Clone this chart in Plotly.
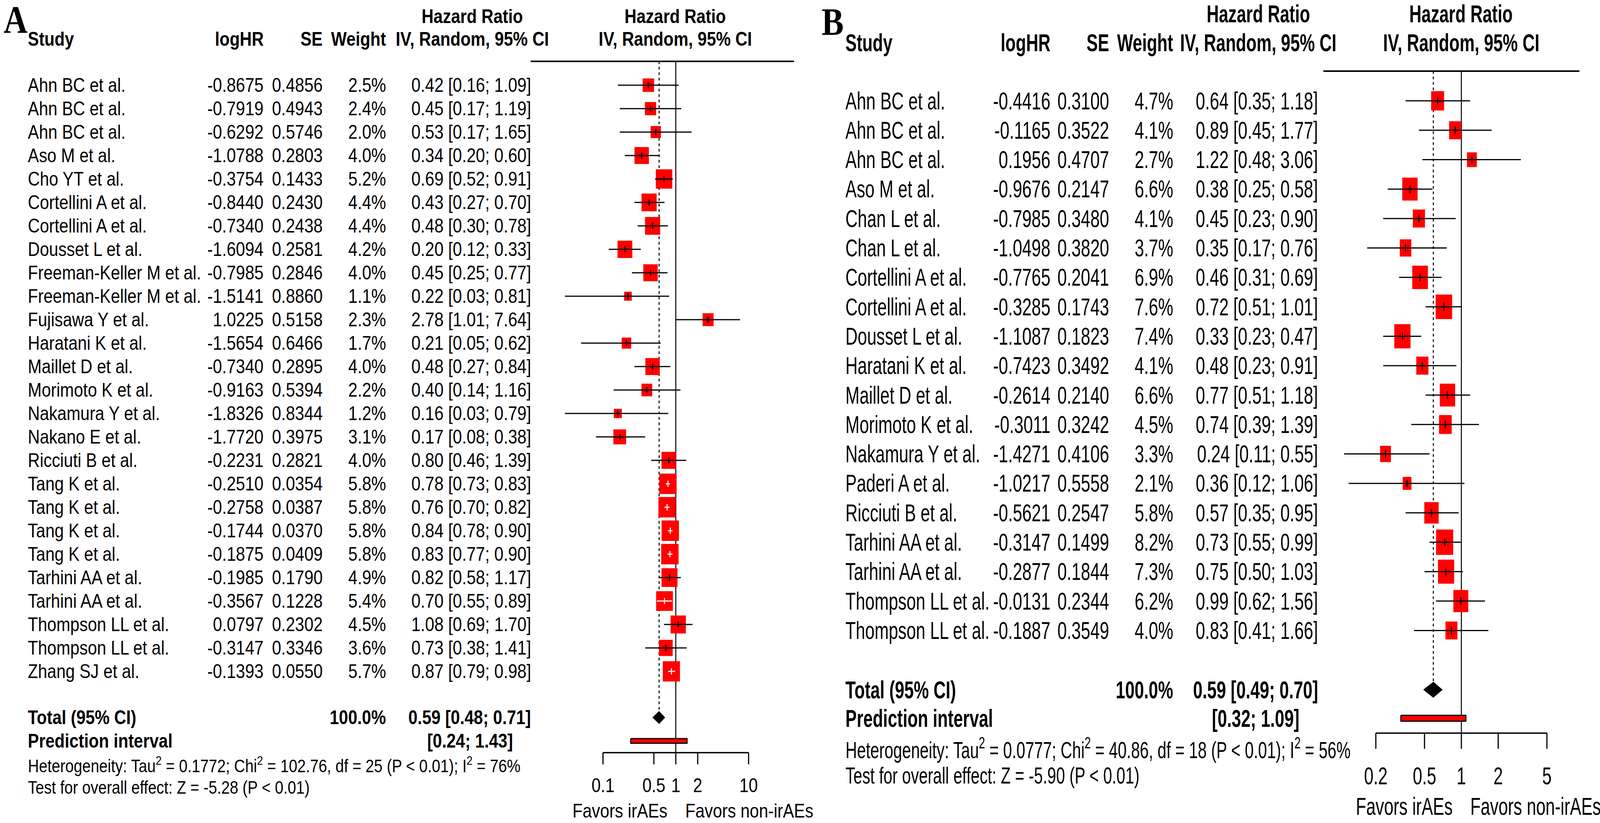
import math
import plotly.graph_objects as go

W, H = 4824, 2106

# ---------------- Panel A data ----------------
a_study = ["Ahn BC et al.", "Ahn BC et al.", "Ahn BC et al.", "Aso M et al.", "Cho YT et al.",
           "Cortellini A et al.", "Cortellini A et al.", "Dousset L et al.", "Freeman-Keller M et al.",
           "Freeman-Keller M et al.", "Fujisawa Y et al.", "Haratani K et al.", "Maillet D et al.",
           "Morimoto K et al.", "Nakamura Y et al.", "Nakano E et al.", "Ricciuti B et al.",
           "Tang K et al.", "Tang K et al.", "Tang K et al.", "Tang K et al.", "Tarhini AA et al.",
           "Tarhini AA et al.", "Thompson LL et al.", "Thompson LL et al.", "Zhang SJ et al."]
a_loghr = [-0.8675, -0.7919, -0.6292, -1.0788, -0.3754, -0.8440, -0.7340, -1.6094, -0.7985,
           -1.5141, 1.0225, -1.5654, -0.7340, -0.9163, -1.8326, -1.7720, -0.2231, -0.2510,
           -0.2758, -0.1744, -0.1875, -0.1985, -0.3567, 0.0797, -0.3147, -0.1393]
a_se = [0.4856, 0.4943, 0.5746, 0.2803, 0.1433, 0.2430, 0.2438, 0.2581, 0.2846, 0.8860, 0.5158,
        0.6466, 0.2895, 0.5394, 0.8344, 0.3975, 0.2821, 0.0354, 0.0387, 0.0370, 0.0409, 0.1790,
        0.1228, 0.2302, 0.3346, 0.0550]
a_weight = [2.5, 2.4, 2.0, 4.0, 5.2, 4.4, 4.4, 4.2, 4.0, 1.1, 2.3, 1.7, 4.0, 2.2, 1.2, 3.1, 4.0,
            5.8, 5.8, 5.8, 5.8, 4.9, 5.4, 4.5, 3.6, 5.7]
a_hr = [0.42, 0.45, 0.53, 0.34, 0.69, 0.43, 0.48, 0.20, 0.45, 0.22, 2.78, 0.21, 0.48, 0.40, 0.16,
        0.17, 0.80, 0.78, 0.76, 0.84, 0.83, 0.82, 0.70, 1.08, 0.73, 0.87]
a_lower = [0.16, 0.17, 0.17, 0.20, 0.52, 0.27, 0.30, 0.12, 0.25, 0.03, 1.01, 0.05, 0.27, 0.14, 0.03,
           0.08, 0.46, 0.73, 0.70, 0.78, 0.77, 0.58, 0.55, 0.69, 0.38, 0.79]
a_upper = [1.09, 1.19, 1.65, 0.60, 0.91, 0.70, 0.78, 0.33, 0.77, 0.81, 7.64, 0.62, 0.84, 1.16, 0.79,
           0.38, 1.39, 0.83, 0.82, 0.90, 0.90, 1.17, 0.89, 1.70, 1.41, 0.98]
a_total_weight = 100.0
a_total = [0.59, 0.48, 0.71]
a_pred = [0.24, 1.43]
a_ticks = [0.1, 0.5, 1, 2, 10]
a_het = ["0.1772", "102.76", "25", "76%"]
a_z = "-5.28"

# ---------------- Panel B data ----------------
b_study = ["Ahn BC et al.", "Ahn BC et al.", "Ahn BC et al.", "Aso M et al.", "Chan L et al.",
           "Chan L et al.", "Cortellini A et al.", "Cortellini A et al.", "Dousset L et al.",
           "Haratani K et al.", "Maillet D et al.", "Morimoto K et al.", "Nakamura Y et al.",
           "Paderi A et al.", "Ricciuti B et al.", "Tarhini AA et al.", "Tarhini AA et al.",
           "Thompson LL et al.", "Thompson LL et al."]
b_loghr = [-0.4416, -0.1165, 0.1956, -0.9676, -0.7985, -1.0498, -0.7765, -0.3285, -1.1087, -0.7423,
           -0.2614, -0.3011, -1.4271, -1.0217, -0.5621, -0.3147, -0.2877, -0.0131, -0.1887]
b_se = [0.3100, 0.3522, 0.4707, 0.2147, 0.3480, 0.3820, 0.2041, 0.1743, 0.1823, 0.3492, 0.2140,
        0.3242, 0.4106, 0.5558, 0.2547, 0.1499, 0.1844, 0.2344, 0.3549]
b_weight = [4.7, 4.1, 2.7, 6.6, 4.1, 3.7, 6.9, 7.6, 7.4, 4.1, 6.6, 4.5, 3.3, 2.1, 5.8, 8.2, 7.3, 6.2, 4.0]
b_hr = [0.64, 0.89, 1.22, 0.38, 0.45, 0.35, 0.46, 0.72, 0.33, 0.48, 0.77, 0.74, 0.24, 0.36, 0.57,
        0.73, 0.75, 0.99, 0.83]
b_lower = [0.35, 0.45, 0.48, 0.25, 0.23, 0.17, 0.31, 0.51, 0.23, 0.23, 0.51, 0.39, 0.11, 0.12, 0.35,
           0.55, 0.50, 0.62, 0.41]
b_upper = [1.18, 1.77, 3.06, 0.58, 0.90, 0.76, 0.69, 1.01, 0.47, 0.91, 1.18, 1.39, 0.55, 1.06, 0.95,
           0.99, 1.03, 1.56, 1.66]
b_total_weight = 100.0
b_total = [0.59, 0.49, 0.70]
b_pred = [0.32, 1.09]
b_ticks = [0.2, 0.5, 1, 2, 5]
b_het = ["0.0777", "40.86", "18", "56%"]
b_z = "-5.90"

# ---------------- layout / style (pixel positions in a 4824x2106 canvas) ----------------
STYLE_A = dict(letter="A", letter_x=10, letter_y=50, font="Liberation Sans", fs=50, hfs=46,
               row0=218, dy=60, one_px=2037.5, ppd=219.5, dom=(1600, 2450),
               c_study=83, c_loghr=796, c_se=974, c_weight=1165, c_ci=1602, c_cih=1424, c_fh=2036,
               h1=42, h2=100, hline_y=157, hline_x=(74, 2394),
               y_total=1836, y_pred=1896, pred_right=1547, y_het=1957, y_test=2015,
               axis_y=1926, tick_len=30, y_ticklab=2015, y_fav=2075, fav_l=2013, fav_r=2065,
               sq_k=21.5, sq_aspect=1.0, dia_h=16, pred_h=6, tick_h=8)
STYLE_B = dict(letter="B", letter_x=2476, letter_y=55, font="Liberation Sans", fs=51, hfs=48,
               row0=258, dy=75.3, one_px=4406, ppd=369, dom=(3990, 4824),
               c_study=2548, c_loghr=3168, c_se=3345, c_weight=3538, c_ci=3975, c_cih=3794, c_fh=4405,
               h1=35, h2=109, hline_y=182, hline_x=(2548, 4762),
               y_total=1765, y_pred=1838, pred_right=3919, y_het=1915, y_test=1984,
               axis_y=1876, tick_len=40, y_ticklab=1990, y_fav=2063, fav_l=4381, fav_r=4432,
               sq_k=17.8, sq_aspect=1.27, dia_h=20, pred_h=7.5, tick_h=10)
B_TEXT_STRETCH = 1.25   # panel B glyphs are drawn taller than panel A in the reference

fig = go.Figure()
annotations = []


def ann(xpx, ypx, text, anchor, size, family, bold=False):
    annotations.append(dict(x=xpx / W, xref="paper", y=ypx, yref="y",
                            text=f"<b>{text}</b>" if bold else text, showarrow=False,
                            xanchor=anchor, yanchor="middle", borderpad=0,
                            font=dict(family=family, size=size, color="black")))


def panel(S, study, loghr, se, weight, hr, lower, upper, total_w, total, pred, ticks, het, z, xref):
    fam, fs = S["font"], S["fs"]
    n = len(study)
    rows = [S["row0"] + S["dy"] * i for i in range(n)]

    ann(S["letter_x"], S["letter_y"], S["letter"], "left", 100, "Liberation Serif", bold=True)
    ann(S["c_study"], S["h2"], "Study", "left", fs, fam, True)
    ann(S["c_loghr"], S["h2"], "logHR", "right", fs, fam, True)
    ann(S["c_se"], S["h2"], "SE", "right", fs, fam, True)
    ann(S["c_weight"], S["h2"], "Weight", "right", fs, fam, True)
    for cx in (S["c_cih"], S["c_fh"]):
        ann(cx, S["h1"], "Hazard Ratio", "center", fs, fam, True)
        ann(cx, S["h2"], "IV, Random, 95% CI", "center", fs, fam, True)

    for i in range(n):
        y = rows[i]
        ann(S["c_study"], y, study[i], "left", fs, fam)
        ann(S["c_loghr"], y, f"{loghr[i]:.4f}", "right", fs, fam)
        ann(S["c_se"], y, f"{se[i]:.4f}", "right", fs, fam)
        ann(S["c_weight"], y, f"{weight[i]:.1f}%", "right", fs, fam)
        ann(S["c_ci"], y, f"{hr[i]:.2f} [{lower[i]:.2f}; {upper[i]:.2f}]", "right", fs, fam)

    ann(S["c_study"], S["y_total"], "Total (95% CI)", "left", fs, fam, True)
    ann(S["c_weight"], S["y_total"], f"{total_w:.1f}%", "right", fs, fam, True)
    ann(S["c_ci"], S["y_total"], f"{total[0]:.2f} [{total[1]:.2f}; {total[2]:.2f}]", "right", fs, fam, True)
    ann(S["c_study"], S["y_pred"], "Prediction interval", "left", fs, fam, True)
    ann(S["pred_right"], S["y_pred"], f"[{pred[0]:.2f}; {pred[1]:.2f}]", "right", fs, fam, True)
    ann(S["c_study"], S["y_het"],
        f"Heterogeneity: Tau<sup>2</sup> = {het[0]}; Chi<sup>2</sup> = {het[1]}, df = {het[2]} "
        f"(P &lt; 0.01); I<sup>2</sup> = {het[3]}", "left", S["hfs"], fam)
    ann(S["c_study"], S["y_test"], f"Test for overall effect: Z = {z} (P &lt; 0.01)", "left", S["hfs"], fam)
    ann(S["fav_l"], S["y_fav"], "Favors irAEs", "right", fs, fam)
    ann(S["fav_r"], S["y_fav"], "Favors non-irAEs", "left", fs, fam)

    def px_to_val(px):
        return 10 ** ((px - S["one_px"]) / S["ppd"])

    black = "#000000"
    common = dict(xaxis=xref, yaxis="y", hoverinfo="skip", showlegend=False)
    fig.add_trace(go.Scatter(x=[px_to_val(S["hline_x"][0]), px_to_val(S["hline_x"][1])],
                             y=[S["hline_y"], S["hline_y"]], mode="lines",
                             line=dict(color=black, width=4), cliponaxis=False, **common))
    fig.add_trace(go.Scatter(x=[1, 1], y=[S["hline_y"], S["axis_y"]], mode="lines",
                             line=dict(color=black, width=3), **common))
    fig.add_trace(go.Scatter(x=[total[0], total[0]], y=[S["hline_y"], S["y_total"] - S["dia_h"]],
                             mode="lines", line=dict(color=black, width=3, dash="7px,7px"), **common))

    sx, sy = [], []
    blk_x, blk_y, wht_x, wht_y = [], [], [], []
    for i in range(n):
        side = S["sq_k"] * math.sqrt(weight[i])
        hw = side / 2 / S["ppd"]
        hh = side * S["sq_aspect"] / 2
        l, r = hr[i] * 10 ** (-hw), hr[i] * 10 ** hw
        yc = rows[i]
        sx += [l, r, r, l, l, None]
        sy += [yc - hh, yc - hh, yc + hh, yc + hh, yc - hh, None]
        inside = lower[i] >= l and upper[i] <= r
        tx, ty = (wht_x, wht_y) if inside else (blk_x, blk_y)
        tx += [lower[i], upper[i], None, hr[i], hr[i], None]
        ty += [yc, yc, None, yc - S["tick_h"], yc + S["tick_h"], None]
    fig.add_trace(go.Scatter(x=sx, y=sy, mode="lines", fill="toself", fillcolor="#FF0000",
                             line=dict(color="#FF0000", width=0.5), **common))
    fig.add_trace(go.Scatter(x=blk_x, y=blk_y, mode="lines", line=dict(color=black, width=3),
                             cliponaxis=False, **common))
    if wht_x:
        fig.add_trace(go.Scatter(x=wht_x, y=wht_y, mode="lines", line=dict(color="#FFFFFF", width=3),
                                 **common))

    yt = S["y_total"]
    fig.add_trace(go.Scatter(x=[total[1], total[0], total[2], total[0], total[1]],
                             y=[yt, yt - S["dia_h"], yt, yt + S["dia_h"], yt],
                             mode="lines", fill="toself", fillcolor=black,
                             line=dict(color=black, width=1), **common))
    yp, ph = S["y_pred"], S["pred_h"]
    fig.add_trace(go.Scatter(x=[pred[0], pred[1], pred[1], pred[0], pred[0]],
                             y=[yp - ph, yp - ph, yp + ph, yp + ph, yp - ph],
                             mode="lines", fill="toself", fillcolor="#FF0000",
                             line=dict(color=black, width=3), **common))
    ay = S["axis_y"]
    axx, axy = [ticks[0], ticks[-1], None], [ay, ay, None]
    for t in ticks:
        axx += [t, t, None]
        axy += [ay, ay + S["tick_len"], None]
    fig.add_trace(go.Scatter(x=axx, y=axy, mode="lines", line=dict(color=black, width=3.5), **common))
    fig.add_trace(go.Scatter(x=ticks, y=[S["y_ticklab"]] * len(ticks), mode="text",
                             text=[f"{t:g}" for t in ticks], textposition="middle center",
                             textfont=dict(family=fam, size=fs, color=black),
                             cliponaxis=False, **common))


panel(STYLE_A, a_study, a_loghr, a_se, a_weight, a_hr, a_lower, a_upper, a_total_weight, a_total,
      a_pred, a_ticks, a_het, a_z, "x")
b_first = len(annotations)
panel(STYLE_B, b_study, b_loghr, b_se, b_weight, b_hr, b_lower, b_upper, b_total_weight, b_total,
      b_pred, b_ticks, b_het, b_z, "x2")
b_text_idx = list(range(b_first + 1, len(annotations)))   # panel B texts except its letter


def axis_cfg(S):
    d0, d1 = S["dom"]
    return dict(type="log", domain=[d0 / W, d1 / W],
                range=[(d0 - S["one_px"]) / S["ppd"], (d1 - S["one_px"]) / S["ppd"]],
                visible=False, anchor="y", fixedrange=True)


fig.update_layout(
    width=W, height=H, margin=dict(l=0, r=0, t=0, b=0),
    paper_bgcolor="white", plot_bgcolor="white",
    xaxis=axis_cfg(STYLE_A), xaxis2=axis_cfg(STYLE_B),
    yaxis=dict(range=[H, 0], domain=[0, 1], visible=False, fixedrange=True),
    annotations=annotations, showlegend=False,
)

# Fit the 4824x2106 figure to the actual browser viewport (it may be narrower than asked),
# then give panel B's glyphs their taller proportions.
FIT_JS = """
(function(){
  var gd = document.getElementById('{plot_id}');
  var iw = window.innerWidth, ih = window.innerHeight;
  var sx = iw / 4824, sy = ih / 2106;
  if (!(sx > 0) || !(sy > 0)) { sx = 1; sy = 1; }
  document.documentElement.style.overflow = 'hidden';
  document.body.style.margin = '0';
  document.body.style.overflow = 'hidden';
  var wrap = gd.parentElement;
  wrap.style.width = (4824 * sx) + 'px';
  wrap.style.height = (2106 * sy) + 'px';
  wrap.style.overflow = 'hidden';
  gd.style.transformOrigin = '0 0';
  gd.style.transform = 'scale(' + sx + ',' + sy + ')';
  try {
    var k = __K__;
    var idx = __IDX__;
    var stretch = function(t) {
      var b = t.getBBox();
      var cy = b.y + b.height / 2;
      var old = t.getAttribute('transform') || '';
      t.setAttribute('transform', old + ' translate(0,' + cy + ') scale(1,' + k + ') translate(0,' + (-cy) + ')');
    };
    idx.forEach(function(i) {
      gd.querySelectorAll('g.annotation[data-index="' + i + '"] text.annotation-text').forEach(stretch);
    });
    gd.querySelectorAll('.subplot.x2y .scatterlayer text').forEach(stretch);
  } catch (e) {}
})();
""".replace("__K__", str(B_TEXT_STRETCH)).replace("__IDX__", str(b_text_idx))

fig.write_html("out.html", config={"displayModeBar": False}, post_script=FIT_JS)
